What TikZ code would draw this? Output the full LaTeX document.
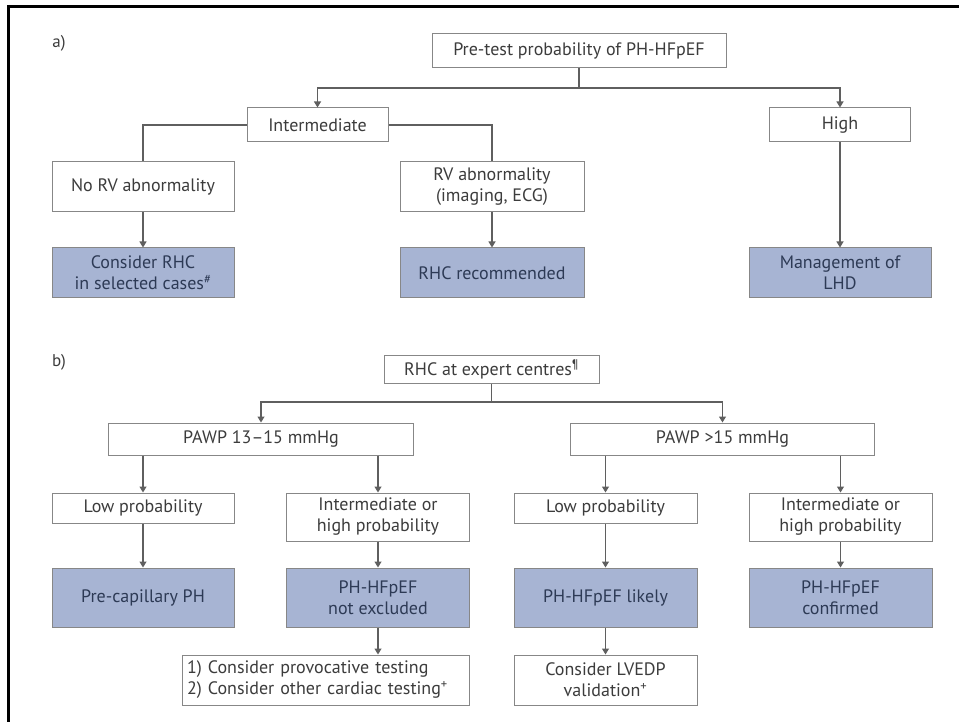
\documentclass[tikz,border=0pt]{standalone}
\usepackage{fontspec}
\setmainfont{PT Sans}
\usetikzlibrary{arrows.meta}
\definecolor{fillblue}{RGB}{167,180,211}
\definecolor{boxline}{RGB}{135,135,135}
\definecolor{conn}{RGB}{95,95,95}
\definecolor{txtgrey}{RGB}{60,60,60}
\definecolor{txtblue}{RGB}{45,58,85}
\tikzset{
  wbox/.style={draw=boxline, line width=1pt, fill=white, inner sep=0pt, align=center,
    text=txtgrey, font=\fontsize{18}{21}\selectfont},
  fbox/.style={wbox, fill=fillblue, text=txtblue},
  ln/.style={draw=conn, line width=1.1pt},
  arr/.style={ln, -{Triangle[width=7pt,length=6pt]}},
  lab/.style={text=txtgrey, font=\fontsize{17}{19}\selectfont},
}
\begin{document}
\begin{tikzpicture}[x=1pt,y=-1pt]
\useasboundingbox (0,0) rectangle (959,722);
\fill[white] (0,0) rectangle (959,722);
% frame
\draw[black, line width=3pt] (7,6.5) -- (959,6.5);
\draw[black, line width=3pt] (8.5,5) -- (8.5,722);

% panel a
\node[lab] (la) at (59,43) {a)};
\node[wbox, minimum width=294pt, minimum height=34pt] (pre) at (579,51) {Pre-test probability of PH-HFpEF};
\node[wbox, minimum width=141pt, minimum height=34pt] (inter) at (317.5,125) {Intermediate};
\node[wbox, minimum width=141pt, minimum height=34pt] (high) at (840,125) {High};
\node[wbox, minimum width=182pt, minimum height=50pt] (norv) at (143,187) {No RV abnormality};
\node[wbox, minimum width=184pt, minimum height=50pt] (rv) at (492,187) {RV abnormality\\(imaging, ECG)};
\node[fbox, minimum width=182pt, minimum height=50pt] (crhc) at (143,273) {Consider RHC\\in selected cases\textsuperscript{\#}};
\node[fbox, minimum width=184pt, minimum height=50pt] (rhcrec) at (492,273) {RHC recommended};
\node[fbox, minimum width=182pt, minimum height=50pt] (lhd) at (840,273) {Management of\\LHD};

\coordinate (ja) at (pre.south |- 0,88);
\draw[ln] (pre.south) -- (ja);
\draw[arr] (ja) -| (inter.north);
\draw[arr] (ja) -| (high.north);
\draw[ln] (inter.west) -| (norv.north);
\draw[ln] (inter.east) -| (rv.north);
\draw[arr] (norv.south) -- (crhc.north);
\draw[arr] (rv.south) -- (rhcrec.north);
\draw[arr] (high.south) -- (lhd.north);

% panel b
\node[lab] (lb) at (59,362) {b)};
\node[wbox, minimum width=215pt, minimum height=28pt] (rhcx) at (491.5,369.5) {RHC at expert centres\textsuperscript{¶}};
\node[wbox, minimum width=305pt, minimum height=32pt] (paw1) at (261,439) {PAWP 13–15 mmHg};
\node[wbox, minimum width=304pt, minimum height=32pt] (paw2) at (722.5,439) {PAWP >15 mmHg};
\node[wbox, minimum width=182pt, minimum height=30pt] (low1) at (143,508) {Low probability};
\node[wbox, minimum width=183pt, minimum height=48pt] (ih1) at (378,517) {Intermediate or\\high probability};
\node[wbox, minimum width=183pt, minimum height=30pt] (low2) at (605.5,508) {Low probability};
\node[wbox, minimum width=183pt, minimum height=48pt] (ih2) at (840.5,517) {Intermediate or\\high probability};
\node[fbox, minimum width=182pt, minimum height=59pt] (precap) at (143,597.5) {Pre-capillary PH};
\node[fbox, minimum width=183pt, minimum height=59pt] (nex) at (378,597.5) {PH-HFpEF\\not excluded};
\node[fbox, minimum width=183pt, minimum height=59pt] (likely) at (605.5,597.5) {PH-HFpEF likely};
\node[fbox, minimum width=183pt, minimum height=59pt] (conf) at (840.5,597.5) {PH-HFpEF\\confirmed};
\node[wbox, align=left, minimum width=287pt, minimum height=50pt, text width=277pt] (test) at (325.5,680) {1) Consider provocative testing\\2) Consider other cardiac testing\textsuperscript{+}};
\node[wbox, minimum width=183pt, minimum height=50pt] (lvedp) at (605.5,680) {Consider LVEDP\\validation\textsuperscript{+}};

\coordinate (jb) at (rhcx.south |- 0,402);
\draw[ln] (rhcx.south) -- (jb);
\draw[arr] (jb) -| (paw1.north);
\draw[arr] (jb) -| (paw2.north);
\draw[arr] (low1.north |- paw1.south) -- (low1.north);
\draw[arr] (ih1.north |- paw1.south) -- (ih1.north);
\draw[arr] (low2.north |- paw2.south) -- (low2.north);
\draw[arr] (ih2.north |- paw2.south) -- (ih2.north);
\draw[arr] (low1.south) -- (precap.north);
\draw[arr] (ih1.south) -- (nex.north);
\draw[arr] (low2.south) -- (likely.north);
\draw[arr] (ih2.south) -- (conf.north);
\draw[arr] (nex.south) -- (nex.south |- test.north);
\draw[arr] (likely.south) -- (lvedp.north);
\end{tikzpicture}
\end{document}
